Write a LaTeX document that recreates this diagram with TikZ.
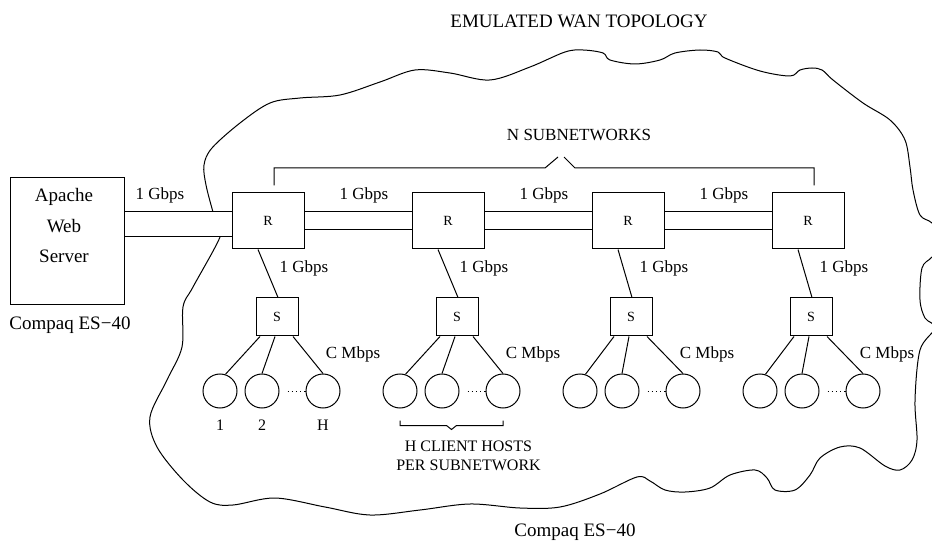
\documentclass[tikz,border=0pt]{standalone}
\usepackage{fontspec}
\setmainfont{Liberation Serif}
\usepackage{tikz}
\usetikzlibrary{positioning, calc}

\begin{document}
\begin{tikzpicture}[x=0.5pt, y=-0.5pt, line width=0.5pt,
    box/.style={draw, inner sep=0pt},
    router/.style={box, minimum width=36pt, minimum height=28pt, font=\fontsize{7}{8}\selectfont},
    switchbox/.style={box, minimum width=21pt, minimum height=19pt, font=\fontsize{7}{8}\selectfont},
    host/.style={draw, circle, minimum size=17pt, inner sep=0pt},
    rate/.style={font=\fontsize{8.5}{10}\selectfont, inner sep=0pt},
    caption/.style={font=\fontsize{9.5}{11}\selectfont, inner sep=0pt},
    hostnum/.style={font=\fontsize{8}{9.5}\selectfont, inner sep=0pt},
    hostdots/.style={dash pattern=on 0.6pt off 1.5pt}]
    \path[use as bounding box] (0,0) rectangle (932,545);
    \clip (0,0) rectangle (932,545);

    % Cloud outline of the emulated WAN (runs past the right edge)
    \draw plot[smooth cycle, tension=0.55] coordinates {
      (217,224) (213,212) (206,185) (204,165) (212,148) (240,123) (270,103)
      (300,98) (340,95) (380,82) (415,70) (450,73) (490,80) (530,67) (565,52)
      (583,50) (603,53) (610,60) (635,64) (660,60) (675,53) (700,50) (718,52)
      (725,58) (760,71) (790,76) (800,70) (812,68) (822,70) (833,80) (863,103)
      (890,120) (905,140) (910,167) (913,190) (920,215) (932,223) (945,240)
      (932,257) (922,268) (920,300) (925,318) (935,328) (920,350) (915,400)
      (917,440) (912,460) (900,470) (885,466) (860,448) (840,447) (820,458)
      (810,475) (795,490) (775,490) (767,478) (755,470) (730,475) (710,488)
      (685,492) (665,490) (650,481) (637,477) (600,494) (560,507) (520,508)
      (470,504) (420,510) (370,515) (325,507) (275,498) (233,505) (210,502)
      (183,480) (157,447) (150,417) (167,380) (182,347) (183,307) (193,287)
      (220,237)};

    \node[caption] (title) at (579,21) {EMULATED WAN TOPOLOGY};
    \node[caption] (wanhost) at (575,532) {Compaq ES−40};

    % Web server
    \node[box, minimum width=57pt, minimum height=63.5pt] (server) at (67,241.5) {};
    \node[align=center, inner sep=0pt, font=\fontsize{9.5}{15.25}\selectfont] (servertext) at (64,226) {Apache\\Web\\Server};
    \node[caption] (serverhost) at ($(server.south)+(3,20)$) {Compaq ES−40};

    % Subnetworks: router, switch and H hosts each
    \foreach \i/\rx/\sx/\hx in {1/268/277/220, 2/448/457/400, 3/628/631/580, 4/808/811/760} {
      \node[router] (R\i) at (\rx,221) {R};
      \node[switchbox] (S\i) at (\sx,317) {S};
      \node[host] (A\i) at (\hx,391) {};
      \node[host] (B\i) at (\hx+42,391) {};
      \node[host] (C\i) at (\hx+103,391) {};
      \draw ($(R\i.south)+(-10,0)$) -- ($(S\i.north)+(1,0)$);
      \draw ($(S\i.south)+(-17,0)$) -- (A\i.72);
      \draw ($(S\i.south)+(-2,0)$) -- (B\i.north);
      \draw ($(S\i.south)+(16,0)$) -- (C\i.north);
      \draw[hostdots] ($(B\i.east)+(8,0)$) -- (C\i.west);
      \node[rate] at ($(R\i)+(36,47)$) {1 Gbps};
      \node[rate] at ($(S\i)+(76,37)$) {C Mbps};
    }

    % Server link (covers the cloud)
    \coordinate (l1) at ($(R1.west)+(0,-9)$);
    \coordinate (l2) at ($(R1.west)+(0,16)$);
    \fill[white] (l1) rectangle (server.east |- l2);
    \draw (server.east |- l1) -- (l1);
    \draw (server.east |- l2) -- (l2);
    \node[rate] at (160,195) {1 Gbps};

    % Router to router links
    \foreach \i/\j in {1/2, 2/3, 3/4} {
      \draw ($(R\i.east)+(0,-9)$) -- ($(R\j.west)+(0,-9)$);
      \draw ($(R\i.east)+(0,9)$) -- ($(R\j.west)+(0,9)$);
      \node[rate] at ($(R\i.east)!0.5!(R\j.west)+(6,-26)$) {1 Gbps};
    }

    % N subnetworks bracket
    \coordinate (nl) at ($(R1.north)+(6,-7)$);
    \coordinate (nr) at ($(R4.north)+(6,-7)$);
    \draw (nl) |- (545,168) -- ++(13,-11);
    \draw (564,157) -- ++(11,11) -| (nr);
    \node[rate] (nsub) at (579,135) {N SUBNETWORKS};

    % Host numbering and client hosts brace
    \node[hostnum, below=5.5pt of A1] {1};
    \node[hostnum, below=5.5pt of B1] {2};
    \node[hostnum, below=5.5pt of C1] {H};
    \draw ($(A2.south)+(0,12)$) -- ++(0,5) -- ($(A2.south)!0.5!(C2.south)+(-5,17)$)
      -- ++(5,4) -- ++(5,-4) -- ($(C2.south)+(0,17)$) -- ++(0,-5);
    \node[hostnum, align=center, anchor=north] (clients) at ($(A2.south)!0.5!(C2.south)+(17,32)$) {H CLIENT HOSTS\\PER SUBNETWORK};
\end{tikzpicture}
\end{document}
